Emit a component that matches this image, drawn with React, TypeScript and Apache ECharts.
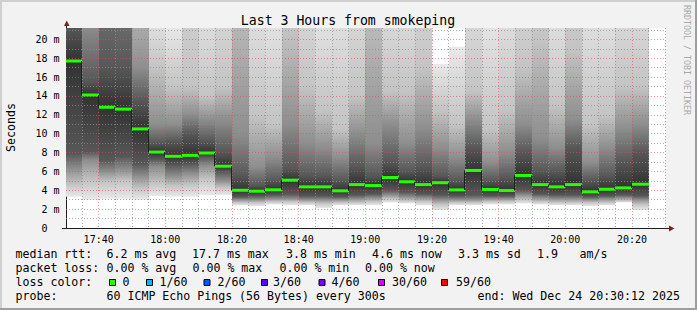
import React, { useEffect, useRef } from 'react';
import * as echarts from 'echarts';

// ---- data ----
const barEnd: string[] = [
  '17:35', '17:40', '17:45', '17:50', '17:55', '18:00', '18:05', '18:10', '18:15', '18:20',
  '18:25', '18:30', '18:35', '18:40', '18:45', '18:50', '18:55', '19:00', '19:05', '19:10',
  '19:15', '19:20', '19:25', '19:30', '19:35', '19:40', '19:45', '19:50', '19:55', '20:00',
  '20:05', '20:10', '20:15', '20:20', '20:25',
];
// median rtt (ms)
const median: number[] = [
  17.7, 14.1, 12.8, 12.6, 10.5, 8.05, 7.6, 7.7, 7.95, 6.55,
  4.0, 3.9, 4.05, 5.07, 4.36, 4.36, 3.94, 4.6, 4.5, 5.35,
  4.9, 4.6, 4.8, 4.04, 6.1, 4.08, 3.97, 5.57, 4.6, 4.36,
  4.6, 3.83, 4.11, 4.25, 4.64,
];
// smoke: ping rtt quantiles (ms)
const q00: number[] = [
  3.3, 3.0, 3.1, 3.1, 3.0, 3.4, 3.3, 3.3, 3.5, 3.5,
  2.4, 2.3, 2.5, 2.4, 2.4, 2.1, 2.4, 2.4, 2.4, 2.7,
  2.6, 2.4, 1.9, 2.4, 2.4, 2.5, 2.5, 2.6, 2.5, 2.4,
  2.4, 2.3, 2.4, 2.7, 1.9,
];
const q10: number[] = [
  4.6, 5.0, 4.9, 5.0, 4.2, 4.7, 4.5, 4.6, 5.2, 4.3,
  2.7, 2.7, 2.8, 2.8, 2.7, 2.6, 2.7, 2.7, 2.8, 3.1,
  2.9, 2.8, 2.5, 2.7, 2.7, 2.8, 2.8, 3.0, 2.8, 2.7,
  2.7, 2.7, 2.7, 2.9, 2.5,
];
const q25: number[] = [
  6.3, 7.2, 6.0, 6.2, 5.5, 6.5, 5.5, 5.8, 6.6, 5.0,
  3.0, 3.0, 3.1, 3.1, 3.0, 3.0, 3.0, 3.1, 3.2, 3.5,
  3.3, 3.2, 3.0, 3.0, 3.0, 3.1, 3.1, 3.5, 3.2, 3.1,
  3.1, 3.0, 3.1, 3.2, 3.0,
];
const q40: number[] = [
  7.9, 8.1, 7.2, 7.6, 6.8, 7.3, 6.7, 6.8, 7.5, 6.0,
  3.3, 3.4, 3.5, 3.6, 3.4, 3.4, 3.3, 3.5, 3.6, 4.0,
  3.8, 3.6, 3.5, 3.4, 3.5, 3.4, 3.4, 4.0, 3.6, 3.5,
  3.5, 3.3, 3.4, 3.5, 3.4,
];
const q60: number[] = [
  21.2, 15.5, 17, 17, 13.5, 9.0, 9.2, 10, 9.2, 8.0,
  5.5, 4.5, 5.0, 6.3, 5.5, 5.5, 5.0, 6.5, 5.5, 7.0,
  6.0, 6.5, 5.5, 5.0, 8.5, 5.0, 5.3, 8.0, 6.0, 6.0,
  8.5, 5.0, 5.5, 7.0, 8.0,
];
const q75: number[] = [
  24, 21.5, 32, 30, 17, 11, 11, 12, 11.5, 11.5,
  10, 6.5, 7.5, 11, 9.0, 8.5, 7.5, 10, 9.0, 11,
  9.0, 10.5, 8.5, 7.5, 11.5, 7.0, 8.0, 11, 9.5, 8.5,
  11.5, 7.0, 8.5, 10.5, 11,
];
const q90: number[] = [
  28, 26, 36, 35, 25, 17, 15, 15, 14, 15,
  25, 12, 11, 21, 15, 12.5, 10.5, 14, 24, 14.5,
  14.5, 17, 12.5, 11, 14.5, 10.5, 12.5, 17, 20, 13,
  19, 11, 12, 15, 15,
];
const q100: number[] = [
  32, 30, 40, 40, 30, 23, 21.5, 45, 25, 30,
  40, 26, 24, 35, 30, 24, 26, 30, 40, 28,
  27, 32, 17.4, 19.2, 28, 23, 26, 32, 40, 25,
  40, 26, 25, 28, 28,
];
const quantileLevels: number[] = [0, 0.1, 0.25, 0.4, 0.5, 0.6, 0.75, 0.9, 1];

const lossLabels: string[] = ['0', '1/60', '2/60', '3/60', '4/60', '30/60', '59/60'];
const lossColors: string[] = ['#26ff00', '#00b8ff', '#0059ff', '#5e00ff', '#7e00ff', '#dd00ff', '#ff0000'];

const FONT = '"DejaVu Sans Mono", monospace';

function toMin(t: string) {
  const [h, m] = t.split(':').map(Number);
  return (h - 17) * 60 + m;
}
function fmtMin(v: number) {
  const tot = Math.round(v);
  const h = 17 + Math.floor(tot / 60);
  const m = tot % 60;
  return `${h}:${m < 10 ? '0' + m : m}`;
}
function grayOf(q: number) {
  const d = Math.min(q, 1 - q);
  const g = Math.round(50 + 183 * (1 - 2 * d));
  return `rgb(${g},${g},${g})`;
}

export default function App() {
  const ref = useRef<HTMLDivElement>(null);
  useEffect(() => {
    const chart = echarts.init(ref.current!, null, { renderer: 'svg' });

    const smokeData = barEnd.map((t, i) => {
      const e = toMin(t);
      return [e - 5, e, q00[i], q10[i], q25[i], q40[i], median[i], q60[i], q75[i], q90[i], q100[i]];
    });
    const medData = barEnd.map((t, i) => {
      const e = toMin(t);
      return [e - 5, e, median[i], i > 0 ? median[i - 1] : median[i]];
    });

    const txt = (x: number, y: number, text: string, extra: any = {}) => ({
      type: 'text',
      x,
      y,
      silent: true,
      style: {
        text,
        font: `11.6px ${FONT}`,
        fill: '#000',
        textAlign: 'left',
        textVerticalAlign: 'middle',
        ...extra,
      },
    });

    const boxX = [109, 146, 203.5, 261, 318.5, 378, 441];
    const boxLabelX = [122.5, 159.5, 217.5, 273, 331.5, 392, 456];

    const graphicEls: any[] = [
      { type: 'rect', shape: { x: 0, y: 0, width: 697, height: 2 }, style: { fill: '#cfcfcf' }, silent: true },
      { type: 'rect', shape: { x: 0, y: 0, width: 2, height: 310 }, style: { fill: '#cfcfcf' }, silent: true },
      { type: 'rect', shape: { x: 0, y: 308, width: 697, height: 2 }, style: { fill: '#9e9e9e' }, silent: true },
      { type: 'rect', shape: { x: 695, y: 0, width: 2, height: 310 }, style: { fill: '#9e9e9e' }, silent: true },
      { type: 'line', shape: { x1: 62, y1: 228.5, x2: 669, y2: 228.5 }, style: { stroke: '#1f1f1f', lineWidth: 1 }, silent: true },
      { type: 'line', shape: { x1: 66.5, y1: 229, x2: 66.5, y2: 26 }, style: { stroke: '#1f1f1f', lineWidth: 1 }, silent: true },
      { type: 'polygon', shape: { points: [[64, 26], [69.5, 26], [66.75, 20.5]] }, style: { fill: '#801f1f' }, silent: true },
      { type: 'polygon', shape: { points: [[669, 225.5], [669, 231.5], [674.5, 228.5]] }, style: { fill: '#801f1f' }, silent: true },
      txt(348, 20, 'Last 3 Hours from smokeping', { font: `13.2px ${FONT}`, textAlign: 'center' }),
      { ...txt(10.5, 127.5, 'Seconds', { textAlign: 'center' }), rotation: Math.PI / 2 },
      { ...txt(687, 60, 'RRDTOOL / TOBI OETIKER', { textAlign: 'center', font: `8.3px ${FONT}`, fill: '#a9a9a9' }), rotation: -Math.PI / 2 },
      // row 1
      txt(15.5, 254, 'median rtt:'),
      txt(106.5, 254, '6.2 ms avg'),
      txt(192, 254, '17.7 ms max'),
      txt(286, 254, '3.8 ms min'),
      txt(372, 254, '4.6 ms now'),
      txt(458, 254, '3.3 ms sd'),
      txt(537, 254, '1.9'),
      txt(579.5, 254, 'am/s'),
      // row 2
      txt(15.5, 268, 'packet loss:'),
      txt(106.5, 268, '0.00 % avg'),
      txt(192.5, 268, '0.00 % max'),
      txt(279.5, 268, '0.00 % min'),
      txt(365, 268, '0.00 % now'),
      // row 3
      txt(15.5, 282, 'loss color:'),
      // row 4
      txt(15.5, 296, 'probe:'),
      txt(106.5, 296, '60 ICMP Echo Pings (56 Bytes) every 300s'),
      txt(477.5, 296, 'end: Wed Dec 24 20:30:12 2025'),
    ];
    lossLabels.forEach((l, i) => {
      graphicEls.push({
        type: 'rect',
        silent: true,
        shape: { x: boxX[i] + 0.5, y: 279.5, width: 6, height: 6 },
        style: { fill: lossColors[i], stroke: '#000', lineWidth: 1 },
      });
      graphicEls.push(txt(boxLabelX[i], 282, l));
    });

    const gridLineMajor = { color: 'rgba(222,79,79,0.6)', width: 1, type: [1, 2] };
    const gridLineMinor = { color: 'rgba(143,143,143,0.75)', width: 1, type: [1, 2] };

    const option: any = {
      animation: false,
      backgroundColor: '#f2f2f2',
      grid: {
        left: 66,
        top: 28,
        width: 600,
        height: 200,
        show: true,
        backgroundColor: '#ffffff',
        borderWidth: 0,
        containLabel: false,
        outerBoundsMode: 'none',
        z: 0,
      },
      xAxis: {
        type: 'value',
        min: 30.2,
        max: 210.2,
        splitNumber: 9,
        minInterval: 20,
        maxInterval: 20,
        z: 2,
        axisLine: { show: false },
        axisTick: { show: false },
        axisLabel: {
          formatter: fmtMin,
          showMinLabel: false,
          showMaxLabel: false,
          margin: 6,
          color: '#000',
          fontFamily: FONT,
          fontSize: 10,
        },
        splitLine: { show: true, showMinLine: false, showMaxLine: false, lineStyle: gridLineMajor },
        minorTick: { show: false, splitNumber: 4 },
        minorSplitLine: { show: true, lineStyle: gridLineMinor },
      },
      yAxis: {
        type: 'value',
        min: 0,
        max: 21.2,
        interval: 2,
        z: 2,
        axisLine: { show: false },
        axisTick: { show: false },
        axisLabel: {
          formatter: (v: number) => (v === 0 ? '{z|0}' : `${v} m`),
          rich: { z: { padding: [0, 12, 0, 0], fontFamily: FONT, fontSize: 10, color: '#000' } },
          showMinLabel: true,
          showMaxLabel: false,
          margin: 6.5,
          color: '#000',
          fontFamily: FONT,
          fontSize: 10,
        },
        splitLine: { show: true, showMinLine: false, showMaxLine: false, lineStyle: gridLineMajor },
        minorTick: { show: false, splitNumber: 2 },
        minorSplitLine: { show: true, lineStyle: gridLineMinor },
      },
      series: [
        {
          type: 'custom',
          name: 'smoke',
          z: 1,
          clip: true,
          silent: true,
          encode: { x: [0, 1], y: [2, 3, 4, 5, 6, 7, 8, 9, 10] },
          data: smokeData,
          renderItem: (params: any, api: any) => {
            const xs = Math.round(api.coord([api.value(0), 0])[0]);
            const xe = Math.round(api.coord([api.value(1), 0])[0]);
            const vals: number[] = [];
            for (let k = 2; k <= 10; k++) vals.push(api.value(k));
            const yBot = api.coord([api.value(0), vals[0]])[1];
            const yTop = api.coord([api.value(0), vals[8]])[1];
            const span = vals[8] - vals[0];
            const stops = vals.map((v, k) => ({
              offset: Math.min(1, Math.max(0, (v - vals[0]) / span)),
              color: grayOf(quantileLevels[k]),
            }));
            return {
              type: 'rect',
              shape: { x: xs, y: yTop, width: xe - xs, height: yBot - yTop },
              style: { fill: new echarts.graphic.LinearGradient(0, 1, 0, 0, stops) },
            };
          },
        },
        {
          type: 'custom',
          name: 'median',
          z: 3,
          clip: true,
          silent: true,
          encode: { x: [0, 1], y: [2, 3] },
          data: medData,
          renderItem: (params: any, api: any) => {
            const xs = Math.round(api.coord([api.value(0), 0])[0]);
            const xe = Math.round(api.coord([api.value(1), 0])[0]);
            const ym = api.coord([api.value(0), api.value(2)])[1];
            const yp = api.coord([api.value(0), api.value(3)])[1];
            return {
              type: 'group',
              children: [
                {
                  type: 'line',
                  shape: { x1: xs - 0.5, y1: yp, x2: xs - 0.5, y2: ym },
                  style: { stroke: '#202020', lineWidth: 1 },
                },
                {
                  type: 'rect',
                  shape: { x: xs, y: ym - 1.5, width: xe - xs, height: 3 },
                  style: { fill: '#26ff00' },
                },
              ],
            };
          },
        },
      ],
      graphic: { elements: graphicEls },
    };

    chart.setOption(option);
    return () => chart.dispose();
  }, []);

  return <div ref={ref} style={{ position: 'absolute', left: 0, top: 0, width: 697, height: 310 }} />;
}
